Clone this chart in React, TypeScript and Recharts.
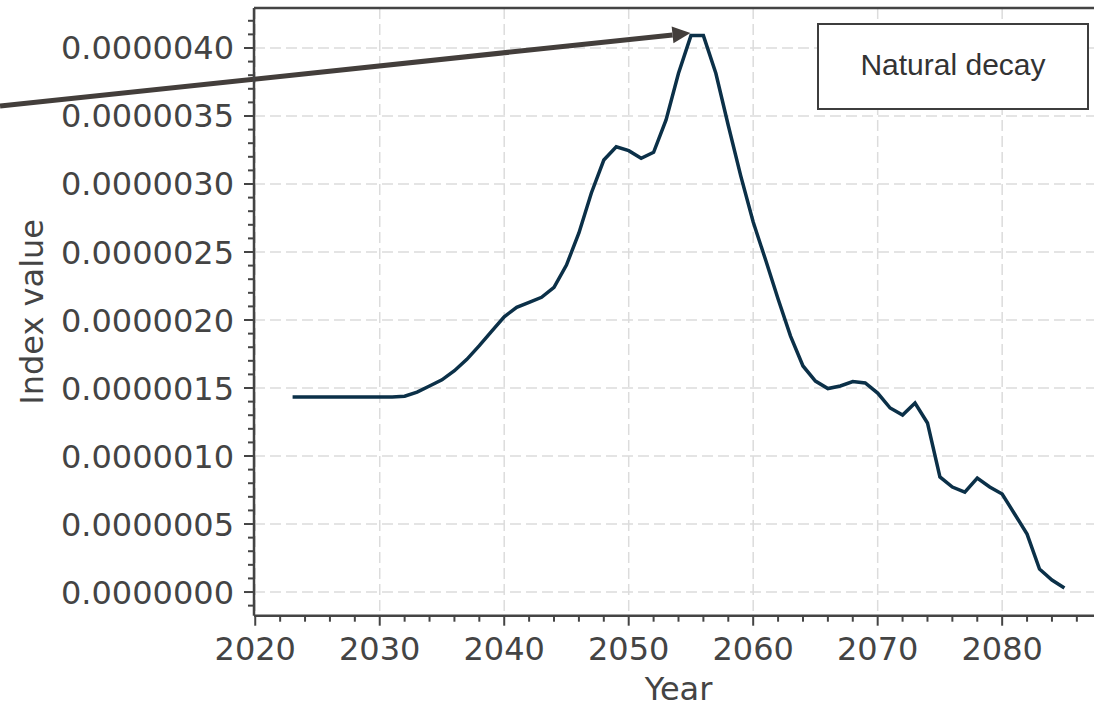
import {
  LineChart,
  Line,
  XAxis,
  YAxis,
  CartesianGrid,
  ReferenceLine,
  Legend,
  Label,
} from "recharts";

// yearly series, 2023-2085
const years = [
  2023, 2024, 2025, 2026, 2027, 2028, 2029, 2030, 2031, 2032, 2033, 2034, 2035,
  2036, 2037, 2038, 2039, 2040, 2041, 2042, 2043, 2044, 2045, 2046, 2047, 2048,
  2049, 2050, 2051, 2052, 2053, 2054, 2055, 2056, 2057, 2058, 2059, 2060, 2061,
  2062, 2063, 2064, 2065, 2066, 2067, 2068, 2069, 2070, 2071, 2072, 2073, 2074,
  2075, 2076, 2077, 2078, 2079, 2080, 2081, 2082, 2083, 2084, 2085,
];

const naturalDecay = [
  1.434e-6, 1.434e-6, 1.434e-6, 1.434e-6, 1.434e-6, 1.434e-6, 1.434e-6,
  1.434e-6, 1.434e-6, 1.44e-6, 1.47e-6, 1.515e-6, 1.56e-6, 1.627e-6, 1.711e-6,
  1.811e-6, 1.919e-6, 2.024e-6, 2.093e-6, 2.13e-6, 2.167e-6, 2.24e-6, 2.404e-6,
  2.64e-6, 2.934e-6, 3.176e-6, 3.274e-6, 3.245e-6, 3.189e-6, 3.233e-6,
  3.471e-6, 3.814e-6, 4.091e-6, 4.091e-6, 3.814e-6, 3.43e-6, 3.06e-6,
  2.721e-6, 2.441e-6, 2.154e-6, 1.882e-6, 1.662e-6, 1.551e-6, 1.496e-6,
  1.515e-6, 1.548e-6, 1.537e-6, 1.463e-6, 1.353e-6, 1.301e-6, 1.39e-6,
  1.243e-6, 0.846e-6, 0.772e-6, 0.735e-6, 0.838e-6, 0.772e-6, 0.721e-6,
  0.574e-6, 0.426e-6, 0.169e-6, 0.088e-6, 0.029e-6,
];

const xMajorTicks = [2020, 2030, 2040, 2050, 2060, 2070, 2080];
const xTicks = [
  2020, 2022, 2024, 2026, 2028, 2030, 2032, 2034, 2036, 2038, 2040, 2042, 2044,
  2046, 2048, 2050, 2052, 2054, 2056, 2058, 2060, 2062, 2064, 2066, 2068, 2070,
  2072, 2074, 2076, 2078, 2080, 2082, 2084, 2086,
];

const yMajorTicks = [0, 5e-7, 1e-6, 1.5e-6, 2e-6, 2.5e-6, 3e-6, 3.5e-6, 4e-6];
// minor ticks every 1e-7
const yTicks = Array.from({ length: 44 }, (_, i) => (i - 1) * 1e-7);

const X_DOMAIN: [number, number] = [2019.9, 2088.1];
const Y_DOMAIN: [number, number] = [-1.74e-7, 4.294e-6];

// annotation arrow pointing at the peak
const arrowFrom = { x: 1999.5, y: 3.573e-6 };
const arrowTo = { x: 2054.96, y: 4.11e-6 };

const data = years.map((year, i) => ({ year, value: naturalDecay[i] }));

const AXIS = "#444444";
const FONT = "'DejaVu Sans', sans-serif";

const isMajorY = (v: number) => {
  const k = (v * 1e7) / 5;
  return Math.abs(k - Math.round(k)) < 1e-6;
};

const YTick = ({ x, y, payload }: any) => {
  const major = isMajorY(payload.value);
  return (
    <g>
      <line x1={x - (major ? 10 : 6)} x2={x} y1={y} y2={y} stroke={AXIS} strokeWidth={2} />
      {major && (
        <text
          x={x - 20}
          y={y + 11.5}
          textAnchor="end"
          fill={AXIS}
          fontSize={32}
          fontFamily={FONT}
        >
          {Math.abs(payload.value).toFixed(7)}
        </text>
      )}
    </g>
  );
};

const XTick = ({ x, y, payload }: any) => {
  const major = xMajorTicks.includes(payload.value);
  return (
    <g>
      <line x1={x} x2={x} y1={y} y2={y + (major ? 10 : 6)} stroke={AXIS} strokeWidth={2} />
      {major && (
        <text
          x={x}
          y={y + 44}
          textAnchor="middle"
          fill={AXIS}
          fontSize={32}
          fontFamily={FONT}
        >
          {payload.value}
        </text>
      )}
    </g>
  );
};

const Arrow = ({ x1, y1, x2, y2 }: any) => {
  const angle = Math.atan2(y2 - y1, x2 - x1);
  const len = 18;
  const half = 8.5;
  const bx = x2 - len * Math.cos(angle);
  const by = y2 - len * Math.sin(angle);
  const nx = -Math.sin(angle) * half;
  const ny = Math.cos(angle) * half;
  return (
    <g>
      <line x1={x1} y1={y1} x2={bx} y2={by} stroke="#433e3b" strokeWidth={5} />
      <polygon
        points={`${x2},${y2} ${bx + nx},${by + ny} ${bx - nx},${by - ny}`}
        fill="#433e3b"
      />
    </g>
  );
};

const LegendBox = ({ payload }: any) => (
  <div
    style={{
      boxSizing: "border-box",
      width: 272,
      height: 87,
      border: "2px solid #3d3d3d",
      background: "#ffffff",
      display: "flex",
      alignItems: "center",
      justifyContent: "center",
      paddingBottom: 4,
      fontFamily: "'Liberation Sans', Arial, sans-serif",
      fontSize: 30,
      color: "#333333",
    }}
  >
    {payload && payload[0] ? payload[0].value : "Natural decay"}
  </div>
);

export default function App() {
  return (
    <div
      style={{
        position: "absolute",
        left: 0,
        top: 0,
        width: 1094,
        height: 705,
        overflow: "hidden",
        background: "#ffffff",
      }}
    >
      <LineChart
        width={1103}
        height={705}
        data={data}
        margin={{ top: 8, right: 0, bottom: 0, left: 0 }}
      >
        <CartesianGrid
          stroke="#dcdcdc"
          strokeWidth={1.5}
          strokeDasharray="11 5"
          horizontalValues={yMajorTicks}
          verticalValues={xMajorTicks}
        />
        <XAxis
          dataKey="year"
          type="number"
          domain={X_DOMAIN}
          allowDataOverflow
          ticks={xTicks}
          interval={0}
          tickSize={0}
          tickMargin={0}
          tickLine={false}
          tick={<XTick />}
          height={89.3}
          axisLine={{ stroke: AXIS, strokeWidth: 2.5 }}
        >
          <Label
            content={({ viewBox }: any) => (
              <text
                x={viewBox.x + viewBox.width / 2}
                y={viewBox.y + 84.3}
                textAnchor="middle"
                fill={AXIS}
                fontSize={32}
                fontFamily={FONT}
              >
                Year
              </text>
            )}
          />
        </XAxis>
        <YAxis
          type="number"
          domain={Y_DOMAIN}
          allowDataOverflow
          ticks={yTicks}
          interval={0}
          tickSize={0}
          tickMargin={0}
          tickLine={false}
          tick={<YTick />}
          width={254}
          axisLine={{ stroke: AXIS, strokeWidth: 2.5 }}
        >
          <Label
            content={({ viewBox }: any) => {
              const cx = viewBox.x + 43;
              const cy = viewBox.y + viewBox.height / 2;
              return (
                <text
                  x={cx}
                  y={cy}
                  transform={`rotate(-90 ${cx} ${cy})`}
                  textAnchor="middle"
                  fill={AXIS}
                  fontSize={32}
                  fontFamily={FONT}
                >
                  Index value
                </text>
              );
            }}
          />
        </YAxis>
        <ReferenceLine y={Y_DOMAIN[1]} stroke={AXIS} strokeWidth={2.5} />
        <Line
          type="linear"
          dataKey="value"
          name="Natural decay"
          stroke="#0b3048"
          strokeWidth={3.5}
          dot={false}
          activeDot={false}
          isAnimationActive={false}
        />
        <ReferenceLine
          segment={[arrowFrom, arrowTo]}
          ifOverflow="visible"
          shape={<Arrow />}
        />
        <Legend
          layout="vertical"
          align="center"
          verticalAlign="middle"
          wrapperStyle={{ left: 817, top: 23, width: 272, height: 87 }}
          content={<LegendBox />}
        />
      </LineChart>
    </div>
  );
}
